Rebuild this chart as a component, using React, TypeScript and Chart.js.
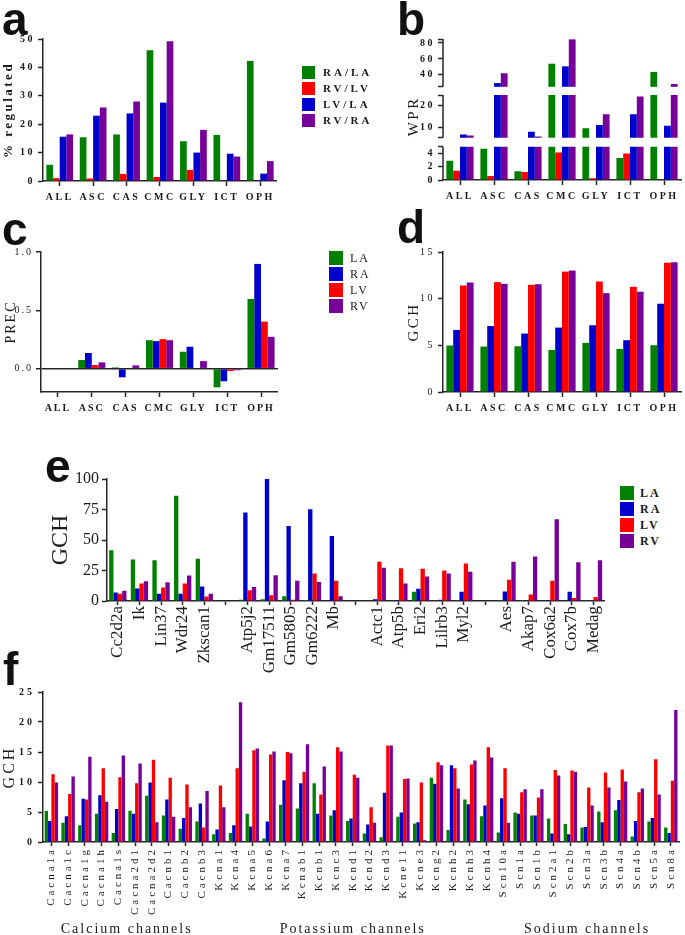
import React, { useEffect, useRef } from 'react';
import { Chart, registerables } from 'chart.js';

Chart.register(...registerables);

const SERIF = "'Liberation Serif', 'Times New Roman', serif";
const SANS = "'Liberation Sans', Arial, sans-serif";
const INK = '#1a1a1a';
const AXIS = '#262626';
const GREEN = '#008000';
const RED = '#ff0000';
const BLUE = '#0000cc';
const PURPLE = '#760098';

// ---------- panel a / b / c / d : regions ----------
const regions = ['ALL', 'ASC', 'CAS', 'CMC', 'GLY', 'ICT', 'OPH'];
const ratioLabels = ['RA/LA', 'RV/LV', 'LV/LA', 'RV/RA'];
const ratioColors = [GREEN, RED, BLUE, PURPLE];

// a: % regulated
const pctRALA = [5.7, 15.4, 16.4, 46.0, 14.0, 16.2, 42.3];
const pctRVLV = [1.0, 0.9, 2.5, 1.4, 3.9, 0, 0];
const pctLVLA = [15.6, 23.0, 23.8, 27.6, 10.0, 9.6, 2.6];
const pctRVRA = [16.4, 25.9, 28.0, 49.2, 18.0, 8.6, 7.0];

// b: WPR (broken axis)
const wprRALA = [2.9, 4.7, 1.3, 54.0, 9.4, 3.3, 43.7];
const wprRVLV = [1.4, 0.6, 1.2, 4.15, 0.25, 4.0, 0];
const wprLVLA = [6.5, 29.7, 7.8, 50.7, 10.9, 16.0, 10.6];
const wprRVRA = [6.0, 42.0, 5.5, 84.5, 16.0, 24.3, 28.5];
const wprLowTicks = [0, 2, 4];
const wprMidTicks = [10, 20];
const wprHighTicks = [40, 60, 80];

// c, d, e, f: chambers
const chamberLabels = ['LA', 'RA', 'LV', 'RV'];
const chamberColors = [GREEN, BLUE, RED, PURPLE];

// c: PREC
const precLA = [0, 0.074, 0.011, 0.244, 0.145, -0.16, 0.597];
const precRA = [0, 0.134, -0.074, 0.236, 0.188, -0.108, 0.898];
const precLV = [0, 0.031, 0, 0.253, 0, -0.02, 0.403];
const precRV = [0, 0.054, 0.028, 0.244, 0.065, -0.014, 0.273];
const precTicks = [0, 0.5, 1.0];

// d: GCH per region
const gchLA = [4.98, 4.87, 4.9, 4.51, 5.26, 4.62, 5.01];
const gchRA = [6.65, 7.07, 6.26, 6.9, 7.15, 5.55, 9.46];
const gchLV = [11.41, 11.77, 11.48, 12.9, 11.84, 11.27, 13.86];
const gchRV = [11.73, 11.59, 11.55, 13.01, 10.59, 10.74, 13.9];

// e: GCH per gene (blank = gap between groups)
const eGenes = ['Cc2d2a', 'Ik', 'Lin37', 'Wdr24', 'Zkscan1', '',
  'Atp5j2', 'Gm17511', 'Gm5805', 'Gm6222', 'Mb', '',
  'Actc1', 'Atp5b', 'Eri2', 'Lilrb3', 'Myl2', '',
  'Aes', 'Akap7', 'Cox6a2', 'Cox7b', 'Medag'];
const eLA = [41.6, 34.0, 33.3, 86.3, 34.6, null, 1.1, 1.4, 3.9, 0.8, 0.5, null, 0.5, 0.2, 7.5, 0.3, 0.2, null, 0.8, 0.2, 0.6, 0.5, 0.3];
const eRA = [6.9, 10.3, 6.0, 6.0, 11.8, null, 72.6, 100, 61.4, 75.3, 53.2, null, 1.4, 0.8, 10.0, 1.1, 7.5, null, 7.8, 0.2, 0.8, 7.5, 0.6];
const eLV = [6.0, 14.3, 11.0, 14.3, 3.7, null, 8.9, 4.7, 1.1, 22.5, 16.7, null, 32.2, 26.9, 26.4, 25.0, 30.8, null, 17.5, 5.3, 16.7, 2.5, 3.3];
const eRV = [8.4, 16.2, 15.4, 20.8, 5.9, null, 11.4, 21.1, 16.7, 15.6, 3.9, null, 27.2, 14.4, 20.0, 22.5, 23.9, null, 32.2, 36.4, 67.1, 31.7, 33.3];

// f: ion channels
const fChannels = ['Cacna1a', 'Cacna1c', 'Cacna1g', 'Cacna1h', 'Cacna1s', 'Cacna2d1', 'Cacna2d2', 'Cacnb1', 'Cacnb2', 'Cacnb3',
  'Kcna1', 'Kcna4', 'Kcna5', 'Kcna6', 'Kcna7', 'Kcnab1', 'Kcnb1', 'Kcnc3', 'Kcnd1', 'Kcnd2', 'Kcnd3', 'Kcne11', 'Kcne3', 'Kcng2', 'Kcnh2', 'Kcnh3', 'Kcnh4',
  'Scn10a', 'Scn1a', 'Scn1b', 'Scn2a1', 'Scn2b', 'Scn3a', 'Scn3b', 'Scn4a', 'Scn4b', 'Scn5a', 'Scn8a'];
const fLA = [5.2, 3.2, 2.8, 4.7, 1.5, 5.2, 7.7, 4.4, 2.2, 3.4, 1.3, 1.5, 4.7, 0.6, 6.2, 5.6, 9.8, 4.4, 3.5, 1.4, 0.8, 4.2, 3.1, 10.7, 2.0, 7.1, 4.3, 1.6, 4.9, 4.4, 3.9, 3.0, 2.4, 5.1, 5.3, 0.9, 3.4, 2.4];
const fRA = [3.5, 4.3, 7.2, 7.8, 5.5, 4.7, 9.9, 7.1, 4.0, 6.4, 2.1, 2.8, 2.6, 3.4, 10.3, 9.8, 4.7, 5.3, 3.9, 2.9, 8.2, 4.9, 3.3, 9.7, 12.8, 6.3, 6.1, 7.3, 4.7, 4.4, 1.4, 1.3, 2.5, 3.3, 7.0, 3.5, 4.0, 1.5];
const fLV = [11.3, 8.0, 7.1, 12.3, 10.8, 9.8, 13.7, 10.7, 9.6, 2.4, 9.4, 12.3, 15.3, 14.6, 15.0, 11.7, 7.9, 15.8, 11.2, 5.8, 16.1, 10.5, 9.9, 13.3, 12.3, 12.9, 15.8, 12.3, 8.3, 7.4, 12.0, 11.9, 9.1, 11.6, 12.1, 8.3, 13.8, 10.2];
const fRV = [9.9, 10.9, 14.2, 6.7, 14.4, 13.1, 3.3, 4.2, 5.8, 8.5, 5.8, 23.3, 15.6, 15.1, 14.8, 16.3, 12.6, 15.1, 10.7, 3.2, 16.1, 10.6, 0.3, 12.8, 8.9, 13.6, 14.1, 3.2, 8.8, 8.8, 11.1, 11.7, 6.1, 9.1, 10.1, 8.9, 7.9, 22.0];
const fGroups = [
  { label: 'Calcium channels', from: 'Cacna1a', to: 'Cacnb3' },
  { label: 'Potassium channels', from: 'Kcna1', to: 'Kcnh4' },
  { label: 'Sodium channels', from: 'Scn10a', to: 'Scn8a' },
];

// ---------- plugins ----------
const spacingPlugin = {
  id: 'spacing',
  beforeUpdate(chart: any, _a: any, opts: any) { chart.ctx.letterSpacing = (opts.px || 0) + 'px'; },
  beforeDraw(chart: any, _a: any, opts: any) { chart.ctx.letterSpacing = (opts.px || 0) + 'px'; },
};

const brokenAxisPlugin = {
  id: 'brokenAxis',
  afterDraw(chart: any, _a: any, opts: any) {
    const ctx = chart.ctx;
    ctx.save();
    ctx.strokeStyle = AXIS;
    ctx.lineWidth = 1.5;
    const x = chart.chartArea.left;
    for (const seg of opts.segments || []) {
      const s = chart.scales[seg.id];
      ctx.beginPath();
      ctx.moveTo(x, s.getPixelForValue(seg.from));
      ctx.lineTo(x, s.getPixelForValue(seg.to));
      ctx.stroke();
    }
    ctx.restore();
  },
};

const groupLabelPlugin = {
  id: 'groupLabels',
  afterDraw(chart: any, _a: any, opts: any) {
    const ctx = chart.ctx;
    const xs = chart.scales.x;
    const labels = chart.data.labels;
    ctx.save();
    ctx.font = `${opts.size}px ${SERIF}`;
    ctx.fillStyle = INK;
    ctx.textAlign = 'center';
    ctx.textBaseline = 'middle';
    ctx.letterSpacing = opts.spacing + 'px';
    for (const g of opts.groups || []) {
      const a = xs.getPixelForValue(labels.indexOf(g.from));
      const b = xs.getPixelForValue(labels.indexOf(g.to));
      ctx.fillText(g.label, (a + b) / 2, xs.bottom - opts.fromBottom);
    }
    ctx.restore();
  },
};

// ---------- helpers ----------
function base(spacing: number, padding: any) {
  return {
    responsive: false,
    animation: false,
    devicePixelRatio: 1,
    layout: { padding },
    plugins: { legend: { display: false }, tooltip: { enabled: false }, spacing: { px: spacing } },
  } as any;
}

function catAxis(font: any, height: number, tickLength: number, pad: number, rotate: boolean) {
  return {
    type: 'category',
    offset: true,
    grid: { display: true, offset: false, drawOnChartArea: false, drawTicks: true, tickLength, tickColor: AXIS, tickWidth: 1.5 },
    border: { display: true, color: AXIS, width: 1.5 },
    ticks: { font, color: INK, padding: pad, autoSkip: false, maxRotation: rotate ? 90 : 0, minRotation: rotate ? 90 : 0 },
    afterFit: (s: any) => { s.height = height; },
  };
}

function valAxis(o: any) {
  return {
    type: 'linear',
    min: o.min,
    max: o.max,
    grid: { drawOnChartArea: false, tickLength: 5, tickColor: AXIS, tickWidth: 1.5, ...(o.grid || {}) },
    border: { color: AXIS, width: 1.5 },
    ticks: {
      stepSize: o.step, font: o.font, color: INK, padding: 3,
      autoSkip: false, maxTicksLimit: 30,
      ...(o.ticks || {}),
    },
    title: { display: !!o.title, text: o.title || '', font: o.titleFont, color: INK, padding: { top: o.titlePad || 0, bottom: 0 } },
    afterFit: (s: any) => { s.width = o.width; },
    ...(o.extra || {}),
  };
}

function barSets(labels: string[], colors: string[], series: any[][]) {
  return labels.map((l, i) => ({
    label: l,
    data: series[i],
    backgroundColor: colors[i],
    borderWidth: 0,
    categoryPercentage: 0.8,
    barPercentage: 1,
  }));
}

// ---------- chart configs ----------
function configA() {
  return {
    type: 'bar',
    data: { labels: regions, datasets: barSets(ratioLabels, ratioColors, [pctRALA, pctRVLV, pctLVLA, pctRVRA]) },
    options: {
      ...base(2.5, { left: 0, top: 12, right: 2, bottom: 0 }),
      scales: {
        x: catAxis({ family: SERIF, size: 10, weight: 'bold' }, 30, 5, 5, false),
        y: valAxis({
          min: 0, max: 50, step: 10, width: 43,
          font: { family: SERIF, size: 10, weight: 'bold' },
          title: '% regulated', titleFont: { family: SERIF, size: 13, weight: 'bold' }, titlePad: 1,
        }),
      },
    },
    plugins: [spacingPlugin],
  };
}

function configB() {
  const segs = [
    { id: 'yLow', min: 0, max: 5.75, from: 0, to: 5, ticks: wprLowTicks, weight: 38.8 },
    { id: 'yMid', min: 3.1, max: 26.9, from: 5, to: 25, ticks: wprMidTicks, weight: 51.5 },
    { id: 'yHigh', min: 19.8, max: 85, from: 25, to: 85, ticks: wprHighTicks, weight: 52.7 },
  ];
  const series = [wprRALA, wprRVLV, wprLVLA, wprRVRA];
  const datasets: any[] = [];
  segs.forEach((seg) => {
    series.forEach((vals, i) => {
      datasets.push({
        label: ratioLabels[i],
        data: vals.map((v) => (v > seg.from ? [seg.from, Math.min(v, seg.to)] : null)),
        backgroundColor: ratioColors[i],
        borderWidth: 0,
        yAxisID: seg.id,
        stack: 's' + i,
        categoryPercentage: 0.8,
        barPercentage: 1,
      });
    });
  });
  const scales: any = { x: catAxis({ family: SERIF, size: 10, weight: 'bold' }, 30, 5, 5, false) };
  segs.forEach((seg) => {
    scales[seg.id] = {
      type: 'linear',
      position: 'left',
      stack: 'wpr',
      stackWeight: seg.weight,
      stacked: false,
      min: seg.min,
      max: seg.max,
      border: { display: false },
      grid: { drawOnChartArea: false, tickLength: 5, tickColor: AXIS, tickWidth: 1.5 },
      ticks: {
        font: { family: SERIF, size: 10, weight: 'bold' },
        color: INK,
        padding: 3,
        autoSkip: false,
        maxTicksLimit: 30,
        callback: (v: any) => (seg.ticks.includes(v) ? String(v) : ''),
      },
      afterBuildTicks: (s: any) => {
        const vals = Array.from(new Set([seg.from, ...seg.ticks, seg.to]));
        s.ticks = vals.map((v) => ({ value: v }));
      },
      title: {
        display: seg.id === 'yMid',
        text: 'WPR',
        font: { family: SERIF, size: 15 },
        color: INK,
        padding: { top: 45, bottom: 0 },
      },
      afterFit: (s: any) => { s.width = 83; },
    };
  });
  return {
    type: 'bar',
    data: { labels: regions, datasets },
    options: {
      ...base(2.5, { left: 0, top: 7, right: 4, bottom: 0 }),
      plugins: {
        legend: { display: false }, tooltip: { enabled: false },
        spacing: { px: 2.5 },
        brokenAxis: { segments: segs },
      },
      scales,
    },
    plugins: [spacingPlugin, brokenAxisPlugin],
  };
}

function configC() {
  return {
    type: 'bar',
    data: { labels: regions, datasets: barSets(chamberLabels, chamberColors, [precLA, precRA, precLV, precRV]) },
    options: {
      ...base(2, { left: 0, top: 12, right: 2, bottom: 0 }),
      scales: {
        x: catAxis({ family: SERIF, size: 10, weight: 'bold' }, 30, 5, 5, false),
        y: valAxis({
          min: -0.2, max: 1.0, width: 41,
          font: { family: SERIF, size: 10 },
          ticks: { callback: (v: any) => Number(v).toFixed(1) },
          grid: {
            drawOnChartArea: true,
            color: (c: any) => (c.tick && c.tick.value === 0 ? AXIS : 'rgba(0,0,0,0)'),
            lineWidth: 1.5,
          },
          title: 'PREC', titleFont: { family: SERIF, size: 14 }, titlePad: 3,
          extra: { afterBuildTicks: (s: any) => { s.ticks = precTicks.map((v) => ({ value: v })); } },
        }),
      },
    },
    plugins: [spacingPlugin],
  };
}

function configD() {
  return {
    type: 'bar',
    data: { labels: regions, datasets: barSets(chamberLabels, chamberColors, [gchLA, gchRA, gchLV, gchRV]) },
    options: {
      ...base(2.5, { left: 0, top: 12, right: 4, bottom: 0 }),
      scales: {
        x: catAxis({ family: SERIF, size: 10, weight: 'bold' }, 30, 5, 5, false),
        y: valAxis({
          min: 0, max: 15, step: 5, width: 83,
          font: { family: SERIF, size: 10 },
          title: 'GCH', titleFont: { family: SERIF, size: 15 }, titlePad: 45,
        }),
      },
    },
    plugins: [spacingPlugin],
  };
}

function configE() {
  return {
    type: 'bar',
    data: { labels: eGenes, datasets: barSets(chamberLabels, chamberColors, [eLA, eRA, eLV, eRV]) },
    options: {
      ...base(0, { left: 0, top: 24, right: 5, bottom: 0 }),
      scales: {
        x: catAxis({ family: SERIF, size: 17 }, 75, 4, 1, true),
        y: valAxis({
          min: 0, max: 100, step: 25, width: 67,
          font: { family: SERIF, size: 16 },
          title: 'GCH', titleFont: { family: SERIF, size: 24 }, titlePad: 6,
        }),
      },
    },
    plugins: [spacingPlugin],
  };
}

function configF() {
  return {
    type: 'bar',
    data: { labels: fChannels, datasets: barSets(chamberLabels, chamberColors, [fLA, fRA, fLV, fRV]) },
    options: {
      ...base(3, { left: 0, top: 12, right: 1, bottom: 0 }),
      plugins: {
        legend: { display: false }, tooltip: { enabled: false },
        spacing: { px: 3 },
        groupLabels: { groups: fGroups, size: 14, spacing: 2, fromBottom: 6 },
      },
      scales: {
        x: catAxis({ family: SERIF, size: 11 }, 93, 4, 1, true),
        y: valAxis({
          min: 0, max: 25, step: 5, width: 43,
          font: { family: SERIF, size: 10, weight: 'bold' },
          title: 'GCH', titleFont: { family: SERIF, size: 16 }, titlePad: 0,
        }),
      },
    },
    plugins: [spacingPlugin, groupLabelPlugin],
  };
}

// ---------- components ----------
function ChartBox({ left, top, width, height, build }: any) {
  const ref = useRef<HTMLCanvasElement>(null);
  useEffect(() => {
    const chart = new Chart(ref.current as HTMLCanvasElement, build());
    return () => chart.destroy();
  }, []);
  return (
    <canvas
      ref={ref}
      width={width}
      height={height}
      style={{ position: 'absolute', left, top, width, height }}
    />
  );
}

function Legend({ left, top, labels, colors, box, gap, textGap, font, spacing }: any) {
  return (
    <div style={{ position: 'absolute', left, top }}>
      {labels.map((l: string, i: number) => (
        <div key={l} style={{ display: 'flex', alignItems: 'center', height: box, marginBottom: gap - box }}>
          <div style={{ width: box, height: box, background: colors[i], flex: 'none' }} />
          <div style={{ marginLeft: textGap, font, letterSpacing: spacing, color: INK, whiteSpace: 'nowrap', lineHeight: 1 }}>{l}</div>
        </div>
      ))}
    </div>
  );
}

function Letter({ ch, left, top }: any) {
  return (
    <div style={{ position: 'absolute', left, top, font: `bold 46px ${SANS}`, lineHeight: '46px', color: '#111', zIndex: 2 }}>
      {ch}
    </div>
  );
}

export default function App() {
  return (
    <div style={{ position: 'absolute', left: 0, top: 0, width: 685, height: 935, background: '#fff', overflow: 'hidden' }}>
      <ChartBox left={0} top={27} width={280} height={184} build={configA} />
      <ChartBox left={360} top={30} width={325} height={180} build={configB} />
      <ChartBox left={0} top={240} width={280} height={182} build={configC} />
      <ChartBox left={360} top={240} width={325} height={182} build={configD} />
      <ChartBox left={40} top={455} width={575} height={221} build={configE} />
      <ChartBox left={0} top={680} width={685} height={255} build={configF} />

      <Legend left={302} top={66} labels={ratioLabels} colors={ratioColors} box={13} gap={16} textGap={8}
        font={`bold 11px ${SERIF}`} spacing="3px" />
      <Legend left={329} top={251} labels={chamberLabels} colors={chamberColors} box={14} gap={16} textGap={7}
        font={`12px ${SERIF}`} spacing="2px" />
      <Legend left={620} top={486} labels={chamberLabels} colors={chamberColors} box={14} gap={16} textGap={6}
        font={`bold 12px ${SERIF}`} spacing="2px" />

      <Letter ch="a" left={2} top={-4} />
      <Letter ch="b" left={397} top={-4} />
      <Letter ch="c" left={2} top={206} />
      <Letter ch="d" left={397} top={204} />
      <Letter ch="e" left={45} top={443} />
      <Letter ch="f" left={3} top={646} />
    </div>
  );
}
